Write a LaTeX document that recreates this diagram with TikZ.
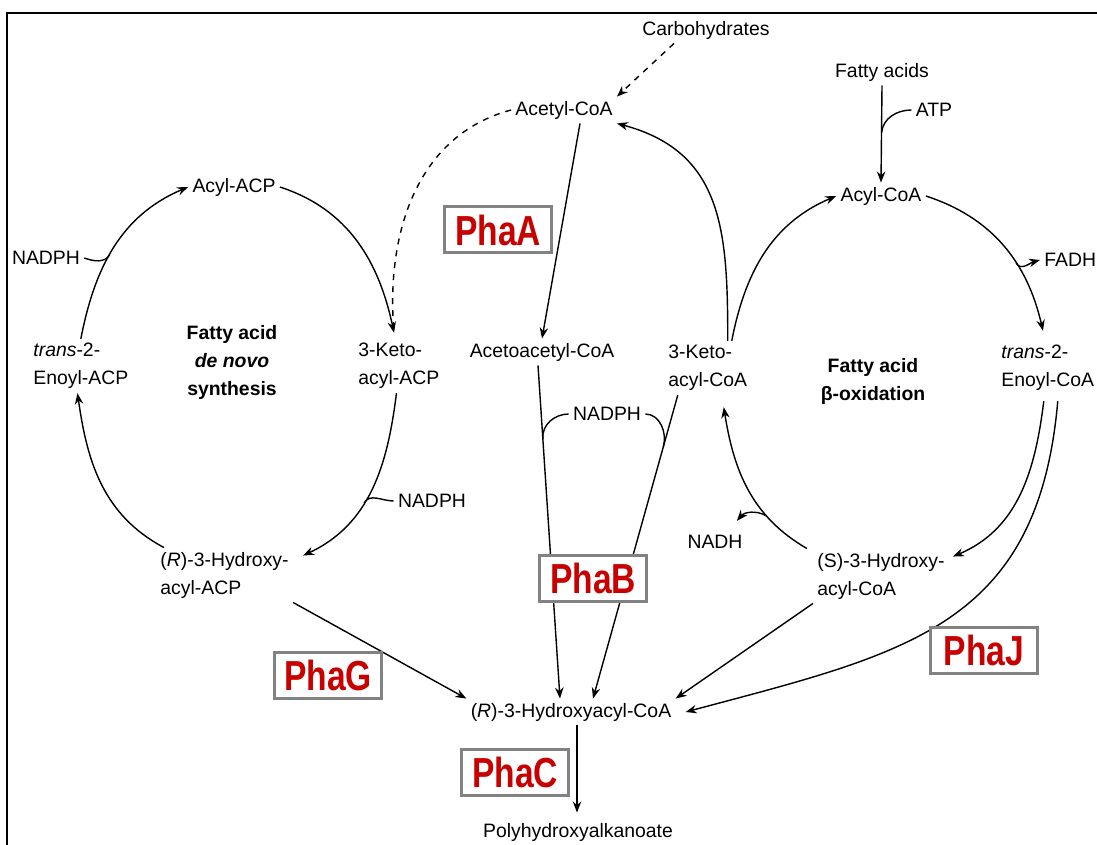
\documentclass[tikz,border=0pt]{standalone}
\usepackage{fontspec}
\setmainfont{Liberation Sans}
\newfontfamily\phafont[FakeStretch=0.8]{Liberation Sans}
\usetikzlibrary{arrows.meta,positioning}

\tikzset{
  txt/.style={inner sep=2pt, font=\fontsize{9.7}{14}\selectfont},
  twoline/.style={txt, align=left, anchor=west},
  cyclename/.style={inner sep=2pt, align=center, font=\fontsize{9.7}{14}\selectfont\bfseries},
  enzyme/.style={draw=phagray, fill=white, line width=1.5pt, minimum width=53.5pt, minimum height=23pt,
    inner sep=0pt, text=phared, font=\phafont\fontsize{21}{21}\selectfont\bfseries},
  conn/.style={->, line width=0.7pt},
  side/.style={line width=0.7pt},
}

\begin{document}
\begin{tikzpicture}[x=0.5pt, y=0.5pt, >={Stealth[length=5.5pt,width=4.2pt]}]
    \definecolor{phared}{RGB}{200,0,0}
    \definecolor{phagray}{RGB}{130,130,130}

    \useasboundingbox (0,0) rectangle (1097,-845);
    \draw[line width=1.25pt] (7,-845) -- (7,-13) -- (1097,-13);

    % metabolites
    \node[txt] (carb) at (706,-30) {Carbohydrates};
    \node[txt] (acetyl) at (564,-110) {Acetyl-CoA};
    \node[txt] (fa) at (882,-72) {Fatty acids};
    \node[txt] (atp) at (934,-110) {ATP};
    \node[txt] (acylacp) at (234,-187) {Acyl-ACP};
    \node[txt] (acylcoa) at (881,-196) {Acyl-CoA};
    \node[txt] (nadph0) at (46,-258) {NADPH};
    \node[txt, anchor=west] (fadh) at (1040,-260) {FADH};
    \node[twoline] (enoylacp) at (29,-366) {\textit{trans}-2-\\Enoyl-ACP};
    \node[twoline] (ketoacp) at (354,-366) {3-Keto-\\acyl-ACP};
    \node[txt] (acac) at (542,-352) {Acetoacetyl-CoA};
    \node[twoline] (ketocoa) at (664,-368) {3-Keto-\\acyl-CoA};
    \node[twoline] (enoylcoa) at (997,-368) {\textit{trans}-2-\\Enoyl-CoA};
    \node[txt] (nadph2) at (607,-414) {NADPH};
    \node[txt] (nadph1) at (432,-501) {NADPH};
    \node[txt] (nadh) at (715,-542) {NADH};
    \node[twoline] (rhacp) at (156,-575) {(\textit{R})-3-Hydroxy-\\acyl-ACP};
    \node[twoline] (shacoa) at (813,-576) {(S)-3-Hydroxy-\\acyl-CoA};
    \node[txt] (rhacoa) at (571,-712) {(\textit{R})-3-Hydroxyacyl-CoA};
    \node[txt] (pha) at (578,-832) {Polyhydroxyalkanoate};

    % cycle names
    \node[cyclename] (synth) at (232,-362) {Fatty acid\\\textit{de novo}\\synthesis};
    \node[cyclename] (betaox) at (873,-381) {Fatty acid\\β-oxidation};

    % de novo synthesis cycle
    \draw[conn] (acylacp.east) to[out=-18,in=102] ([yshift=3pt]ketoacp.100);
    \draw[conn] (ketoacp.-95) to[out=-97,in=25] coordinate[pos=0.58] (m2)
        ([xshift=5pt,yshift=-4pt]rhacp.north east);
    \draw[side] (nadph1.west) to[out=180,in=60] (m2);
    \draw[conn] ([xshift=4pt]rhacp.north west) to[out=152,in=-82] (enoylacp.-97);
    \draw[conn] (enoylacp.north) to[out=79,in=-157] coordinate[pos=0.45] (m4) (acylacp.west);
    \draw[side] (nadph0.east) to[out=-20,in=-120] (m4);
    \draw[side, dashed] (acetyl.west) to[out=195,in=95] ([yshift=3pt]ketoacp.100);

    % beta-oxidation cycle
    \draw[conn] (acylcoa.east) to[out=-18,in=103] coordinate[pos=0.62] (m5)
        ([yshift=5pt]enoylcoa.100);
    \draw[conn] (m5) to[out=-60,in=195] (fadh.west);
    \draw[conn] ([xshift=-2pt,yshift=-3pt]enoylcoa.south) to[out=-97,in=23]
        ([xshift=2pt,yshift=-4pt]shacoa.north east);
    \draw[conn] ([xshift=-3pt]shacoa.north west) to[out=150,in=-81] coordinate[pos=0.3] (m7)
        ([xshift=8pt,yshift=-6pt]ketocoa.south);
    \draw[conn] (m7) to[out=150,in=50] ([xshift=-5pt,yshift=5pt]nadh.north east);
    \draw[conn] ([xshift=12pt]ketocoa.north) to[out=79,in=-157] (acylcoa.west);
    \draw[conn] ([xshift=10pt]ketocoa.north) to[out=90,in=-15,looseness=1.15] (acetyl.south east);
    \draw[conn] (fa.south) -- coordinate[pos=0.49] (m12) (acylcoa.north);
    \draw[side] (atp.west) to[out=180,in=85] (m12);

    % PHA pathway
    \draw[conn, dashed] ([xshift=-16pt]carb.south) -- (acetyl.north east);
    \draw[conn] ([xshift=8pt]acetyl.south) -- (acac.north);
    \draw[conn] ([xshift=-2pt]acac.south) -- coordinate[pos=0.22] (m14) ([xshift=-5.5pt]rhacoa.north);
    \draw[side] (nadph2.west) to[out=180,in=95] (m14);
    \draw[conn] ([xshift=-15pt]ketocoa.south) -- coordinate[pos=0.17] (m15) ([xshift=11pt]rhacoa.north);
    \draw[side] (nadph2.east) to[out=0,in=74] (m15);
    \draw[conn] (rhacp.south east) -- (rhacoa.north west);
    \draw[conn] (shacoa.south west) -- (rhacoa.north east);
    \draw[conn] ([xshift=5pt,yshift=-3pt]enoylcoa.south) to[out=-95,in=15,looseness=1.2]
        ([xshift=5pt]rhacoa.east);
    \draw[conn] ([xshift=3pt]rhacoa.south) -- ([xshift=-0.5pt,yshift=3pt]pha.north);

    % enzymes, drawn last so the boxes cover the lines
    \node[enzyme] (phaA) at (498,-230) {PhaA};
    \node[enzyme] (phaB) at (593,-578) {PhaB};
    \node[enzyme] (phaG) at (328,-675) {PhaG};
    \node[enzyme] (phaC) at (515,-772) {PhaC};
    \node[enzyme] (phaJ) at (984,-650) {PhaJ};

\end{tikzpicture}
\end{document}
